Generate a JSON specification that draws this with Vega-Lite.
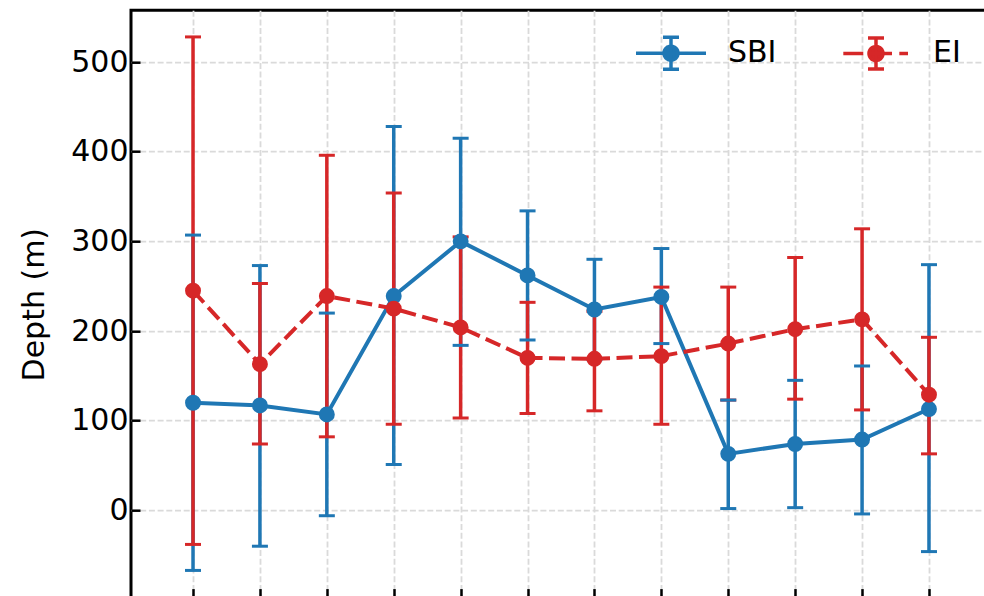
{
  "$schema": "https://vega.github.io/schema/vega-lite/v6.json",
  "width": 860,
  "height": 587.4,
  "autosize": {"type": "none"},
  "padding": {"left": 131, "top": 10.2, "right": 0, "bottom": 0},
  "background": "white",
  "config": {
    "font": "DejaVu Sans",
    "view": {"stroke": "black", "strokeWidth": 3},
    "axis": {
      "gridDash": [6, 2.7],
      "gridColor": "#dadada",
      "gridWidth": 1.8,
      "tickColor": "black",
      "tickWidth": 2.5,
      "tickSize": -9,
      "domain": false,
      "labelFont": "DejaVu Sans",
      "labelFontSize": 30,
      "labelColor": "black",
      "titleFont": "DejaVu Sans",
      "titleFontSize": 30,
      "titleFontWeight": "normal",
      "titleColor": "black"
    }
  },
  "data": {
    "values": [
      {"month": 1, "series": "SBI", "value": 120, "lo": -67, "hi": 307},
      {"month": 2, "series": "SBI", "value": 117, "lo": -40, "hi": 273},
      {"month": 3, "series": "SBI", "value": 107, "lo": -6, "hi": 220},
      {"month": 4, "series": "SBI", "value": 239, "lo": 51, "hi": 428},
      {"month": 5, "series": "SBI", "value": 300, "lo": 184, "hi": 415},
      {"month": 6, "series": "SBI", "value": 262, "lo": 190, "hi": 334},
      {"month": 7, "series": "SBI", "value": 224, "lo": 168, "hi": 280},
      {"month": 8, "series": "SBI", "value": 238, "lo": 186, "hi": 292},
      {"month": 9, "series": "SBI", "value": 63, "lo": 2, "hi": 123},
      {"month": 10, "series": "SBI", "value": 74, "lo": 3, "hi": 145},
      {"month": 11, "series": "SBI", "value": 79, "lo": -4, "hi": 161},
      {"month": 12, "series": "SBI", "value": 113, "lo": -46, "hi": 274},
      {"month": 1, "series": "EI", "value": 245, "lo": -38, "hi": 528},
      {"month": 2, "series": "EI", "value": 163, "lo": 74, "hi": 253},
      {"month": 3, "series": "EI", "value": 239, "lo": 82, "hi": 396},
      {"month": 4, "series": "EI", "value": 225, "lo": 96, "hi": 354},
      {"month": 5, "series": "EI", "value": 204, "lo": 103, "hi": 305},
      {"month": 6, "series": "EI", "value": 170, "lo": 108, "hi": 232},
      {"month": 7, "series": "EI", "value": 169, "lo": 111, "hi": 222},
      {"month": 8, "series": "EI", "value": 172, "lo": 96, "hi": 249},
      {"month": 9, "series": "EI", "value": 186, "lo": 123, "hi": 249},
      {"month": 10, "series": "EI", "value": 202, "lo": 124, "hi": 282},
      {"month": 11, "series": "EI", "value": 213, "lo": 112, "hi": 314},
      {"month": 12, "series": "EI", "value": 129, "lo": 63, "hi": 193}
    ]
  },
  "encoding": {
    "x": {
      "field": "month",
      "type": "quantitative",
      "scale": {"domain": [0.073, 12.927], "nice": false, "zero": false},
      "axis": {"values": [1,2,3,4,5,6,7,8,9,10,11,12], "labels": false, "title": null, "grid": true}
    },
    "color": {
      "field": "series",
      "type": "nominal",
      "scale": {"domain": ["SBI", "EI"], "range": ["#1f77b4", "#d62728"]},
      "legend": {
        "title": null,
        "orient": "none",
        "legendX": 503,
        "legendY": 6,
        "direction": "horizontal",
        "symbolSize": 4900,
        "symbolStrokeWidth": 3.5,
        "labelFontSize": 30,
        "labelFont": "DejaVu Sans",
        "labelColor": "black",
        "labelOffset": 20,
        "columnPadding": 59,
        "padding": 0,
        "encode": {
          "symbols": {
            "update": {
              "shape": {"signal": "datum.value === 'SBI' ? 'M-1,0L1,0M0,-0.457L0,0.457M-0.229,-0.457L0.229,-0.457M-0.229,0.457L0.229,0.457M-0.2,0A0.2,0.2,0,1,0,0.2,0A0.2,0.2,0,1,0,-0.2,0Z' : 'M-0.934,0L-0.363,0M-0.163,0L0.457,0M0.666,0L0.914,0M0,-0.44L0,0.44M-0.229,-0.44L0.229,-0.44M-0.229,0.44L0.229,0.44M-0.2,0A0.2,0.2,0,1,0,0.2,0A0.2,0.2,0,1,0,-0.2,0Z'"},
              "fill": {"scale": "color", "field": "value"},
              "stroke": {"scale": "color", "field": "value"},
              "strokeDash": {"value": [1, 0]},
              "opacity": {"value": 1},
              "fillOpacity": {"value": 1},
              "strokeOpacity": {"value": 1}
            }
          }
        }
      }
    }
  },
  "layer": [
    {
      "mark": {"type": "rule", "strokeWidth": 3.5},
      "encoding": {
        "y": {
          "field": "lo",
          "type": "quantitative",
          "scale": {"domain": [-97.3, 557.8], "nice": false, "zero": false},
          "axis": {
            "values": [0, 100, 200, 300, 400, 500],
            "title": "Depth (m)",
            "grid": true,
            "labelPadding": 12,
            "titleX": -88,
            "titleY": 294,
            "titleAngle": 270,
            "titleAlign": "center",
            "titleBaseline": "alphabetic"
          }
        },
        "y2": {"field": "hi"}
      }
    },
    {
      "mark": {"type": "tick", "orient": "horizontal", "size": 16, "thickness": 3, "opacity": 1},
      "encoding": {"y": {"field": "lo", "type": "quantitative"}}
    },
    {
      "mark": {"type": "tick", "orient": "horizontal", "size": 16, "thickness": 3, "opacity": 1},
      "encoding": {"y": {"field": "hi", "type": "quantitative"}}
    },
    {
      "transform": [{"filter": "datum.series === 'SBI'"}],
      "mark": {"type": "line", "strokeWidth": 4},
      "encoding": {"y": {"field": "value", "type": "quantitative"}}
    },
    {
      "transform": [{"filter": "datum.series === 'SBI'"}],
      "mark": {"type": "point", "filled": true, "size": 254, "opacity": 1},
      "encoding": {"y": {"field": "value", "type": "quantitative"}}
    },
    {
      "transform": [{"filter": "datum.series === 'EI'"}],
      "mark": {"type": "line", "strokeWidth": 4, "strokeDash": [16, 6.5]},
      "encoding": {"y": {"field": "value", "type": "quantitative"}}
    },
    {
      "transform": [{"filter": "datum.series === 'EI'"}],
      "mark": {"type": "point", "filled": true, "size": 254, "opacity": 1},
      "encoding": {"y": {"field": "value", "type": "quantitative"}}
    }
  ]
}
